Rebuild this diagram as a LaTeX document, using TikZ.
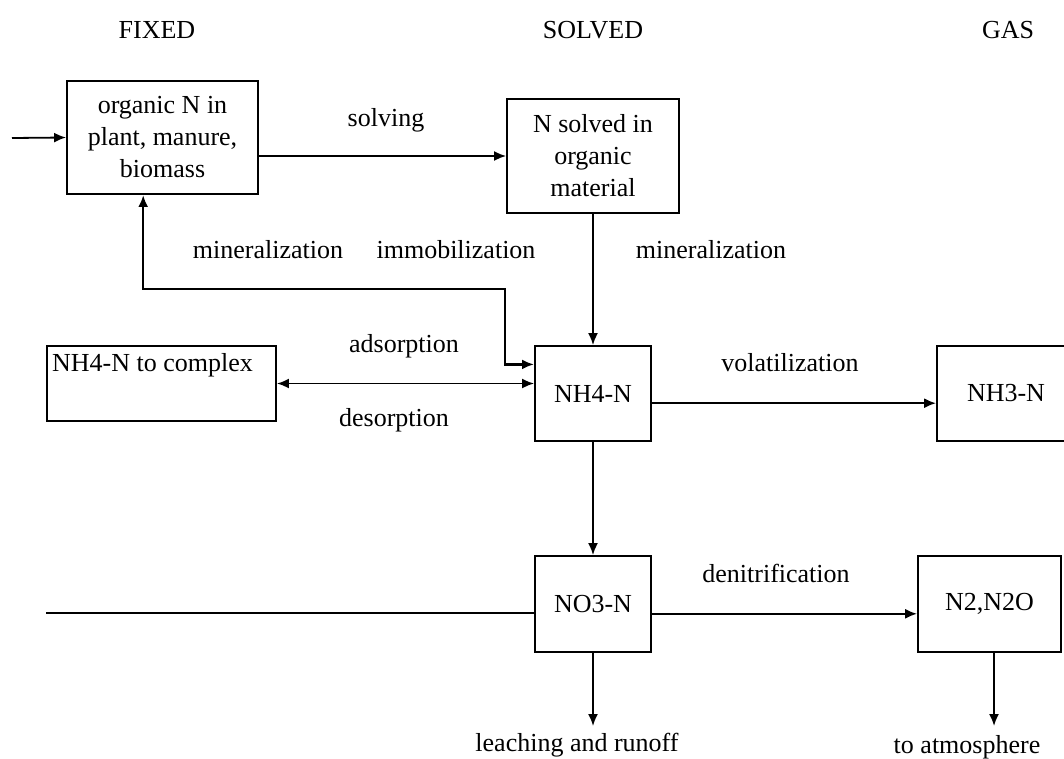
\documentclass[tikz,border=0pt]{standalone}
\usepackage{fontspec}
\setmainfont{Liberation Serif}
\usetikzlibrary{arrows.meta, positioning, calc}

\tikzset{
  flowbox/.style={draw, line width=1.9pt, inner sep=0pt, align=center, font=\fontsize{26}{32}\selectfont},
  flowtxt/.style={inner sep=0pt, font=\fontsize{26}{32}\selectfont},
  flowline/.style={line width=1.8pt},
  flowarr/.style={line width=1.8pt, -{Latex[length=12pt,width=10pt]}},
  flowtwo/.style={line width=1.8pt, {Latex[length=12pt,width=10pt]}-{Latex[length=12pt,width=10pt]}},
}

\begin{document}
\begin{tikzpicture}[x=1pt, y=-1pt]
  \useasboundingbox (0,0) rectangle (1064,758);
  \clip (0,0) rectangle (1064,758);

  % column heads
  \node[flowtxt] (fixedhdr) at (157,30) {FIXED};
  \node[flowtxt] (solvedhdr) at (593,30) {SOLVED};
  \node[flowtxt] (gashdr) at (1008,30) {GAS};

  % boxes
  \node[flowbox, minimum width=191pt, minimum height=113pt] (organic) at (162.5,137.5) {organic N in\\plant, manure,\\biomass};
  \node[flowbox, minimum width=172pt, minimum height=114pt] (solvedorg) at (593,156) {N solved in\\organic\\material};
  \node[flowbox, minimum width=229pt, minimum height=75pt] (complex) at (161.5,383.5) {};
  \node[flowtxt, anchor=west] (complextxt) at (52,365) {NH4-N to complex};
  \node[flowbox, minimum width=116pt, minimum height=95pt] (nhfour) at (593,393.5) {NH4-N};
  \node[flowbox, minimum width=138pt, minimum height=95pt] (nhthree) at (1006,393.5) {NH3-N};
  \node[flowbox, minimum width=116pt, minimum height=96pt] (nothree) at (593,604) {NO3-N};
  \node[flowbox, minimum width=143pt, minimum height=96pt] (ntwo) at (989.5,604) {N2,N2O};

  % free ends
  \coordinate (srcin) at (12,138);
  \coordinate (leftin) at (46,613);
  \coordinate (loopc) at (505,289);
  \coordinate (leachend) at (593,726);
  \coordinate (atmoend) at (994,726);
  \coordinate (nhfourin) at ($(nhfour.north west)!0.2!(nhfour.south west)$);
  \coordinate (nhfourout) at ($(nhfour.north east)!0.6!(nhfour.south east)$);
  \coordinate (nothreeout) at ($(nothree.north east)!0.6!(nothree.south east)$);

  % connectors
  \draw[flowarr] (srcin) -- (organic.west);
  \draw[flowarr] (organic.east |- solvedorg.west) -- (solvedorg.west);
  \draw[flowarr] (solvedorg.south) -- (nhfour.north);
  \draw[flowtwo, line width=2.5pt] ($(organic.south west)!0.4!(organic.south east)$) |- (loopc) |- (nhfourin);
  \draw[flowtwo] (complex.east) -- (complex.east -| nhfour.west);
  \draw[flowarr] (nhfourout) -- (nhfourout -| nhthree.west);
  \draw[flowarr] (nhfour.south) -- (nothree.north);
  \draw[flowline] (leftin) -- (leftin -| nothree.west);
  \draw[flowarr] (nothreeout) -- (nothreeout -| ntwo.west);
  \draw[flowarr] (nothree.south) -- (leachend);
  \draw[flowarr] (ntwo.south -| atmoend) -- (atmoend);

  % labels
  \node[flowtxt] (solvinglbl) at (386,120) {solving};
  \node[flowtxt] (minleftlbl) at (268,250) {mineralization};
  \node[flowtxt] (immolbl) at (456,250) {immobilization};
  \node[flowtxt] (minrightlbl) at (711,250) {mineralization};
  \node[flowtxt] (adsorblbl) at (404,346) {adsorption};
  \node[flowtxt] (desorblbl) at (394,420) {desorption};
  \node[flowtxt] (volatlbl) at (790,363) {volatilization};
  \node[flowtxt] (denitlbl) at (776,573) {denitrification};
  \node[flowtxt] (leachlbl) at (577,745) {leaching and runoff};
  \node[flowtxt] (atmolbl) at (967,747) {to atmosphere};
\end{tikzpicture}
\end{document}
